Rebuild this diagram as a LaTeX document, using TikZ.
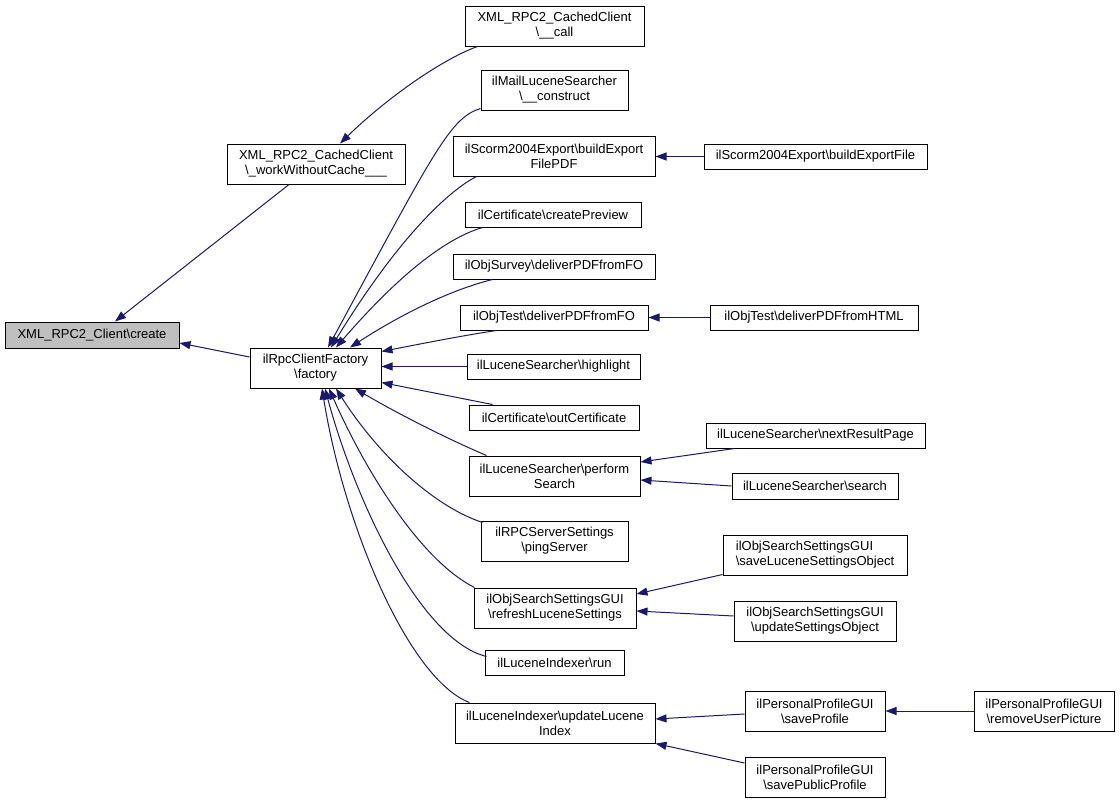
\documentclass[tikz,border=0pt]{standalone}
\usepackage{fontspec}
\setmainfont{Liberation Sans}
\usetikzlibrary{arrows.meta,calc}
\definecolor{edgeblue}{HTML}{191970}
\definecolor{curgray}{HTML}{BFBFBF}
\newcommand{\bs}{\textbackslash}
\begin{document}
\begin{tikzpicture}[x=1pt,y=-1pt,
  fn/.style={draw=black,line width=1pt,inner sep=0pt,align=center,
    font=\fontsize{13}{15}\selectfont},
  edge/.style={draw=edgeblue,line width=1pt,
    {Triangle[length=11pt,width=8pt,fill=edgeblue]}-}]
\useasboundingbox (0,0) rectangle (1120,803);
% nodes
\node[fn,fill=curgray,minimum width=174,minimum height=26] (create) at (92,335) {XML\_RPC2\_Client\bs create};
\node[fn,minimum width=178,minimum height=40] (wwc) at (316,164) {XML\_RPC2\_CachedClient\\\bs\_workWithoutCache\_\_\_};
\node[fn,minimum width=131,minimum height=40] (fac) at (315.5,368) {ilRpcClientFactory\\\bs factory};
\node[fn,minimum width=179,minimum height=40] (call) at (554.5,26) {XML\_RPC2\_CachedClient\\\bs\_\_call};
\node[fn,minimum width=147,minimum height=40] (cons) at (554.5,90) {ilMailLuceneSearcher\\\bs\_\_construct};
\node[fn,minimum width=202,minimum height=40] (bpdf) at (554,156) {ilScorm2004Export\bs buildExport\\FilePDF};
\node[fn,minimum width=223,minimum height=25] (bfile) at (815.5,156.5) {ilScorm2004Export\bs buildExportFile};
\node[fn,minimum width=176,minimum height=25] (cprev) at (553,214.5) {ilCertificate\bs createPreview};
\node[fn,minimum width=202,minimum height=25] (survey) at (554,266.5) {ilObjSurvey\bs deliverPDFfromFO};
\node[fn,minimum width=188,minimum height=25] (tfo) at (554,317.5) {ilObjTest\bs deliverPDFfromFO};
\node[fn,minimum width=208,minimum height=25] (thtml) at (814,317.5) {ilObjTest\bs deliverPDFfromHTML};
\node[fn,minimum width=173,minimum height=25] (hl) at (553.5,366.5) {ilLuceneSearcher\bs highlight};
\node[fn,minimum width=170,minimum height=25] (outc) at (554,417.5) {ilCertificate\bs outCertificate};
\node[fn,minimum width=171,minimum height=40] (perf) at (554.5,476) {ilLuceneSearcher\bs perform\\Search};
\node[fn,minimum width=219,minimum height=25] (next) at (815.5,435.5) {ilLuceneSearcher\bs nextResultPage};
\node[fn,minimum width=166,minimum height=26] (srch) at (815,486) {ilLuceneSearcher\bs search};
\node[fn,minimum width=147,minimum height=40] (ping) at (554.5,541) {ilRPCServerSettings\\\bs pingServer};
\node[fn,minimum width=162,minimum height=40] (refr) at (555,608) {ilObjSearchSettingsGUI\\\bs refreshLuceneSettings};
\node[fn,align=left,minimum width=184,minimum height=40] (slso) at (815,555) {ilObjSearchSettingsGUI\\\bs saveLuceneSettingsObject};
\node[fn,minimum width=162,minimum height=40] (uso) at (815,621) {ilObjSearchSettingsGUI\\\bs updateSettingsObject};
\node[fn,minimum width=139,minimum height=25] (run) at (554.5,662.5) {ilLuceneIndexer\bs run};
\node[fn,minimum width=200,minimum height=40] (uli) at (555,723) {ilLuceneIndexer\bs updateLucene\\Index};
\node[fn,minimum width=140,minimum height=40] (sprof) at (815,711) {ilPersonalProfileGUI\\\bs saveProfile};
\node[fn,minimum width=140,minimum height=40] (rup) at (1044,711) {ilPersonalProfileGUI\\\bs removeUserPicture};
\node[fn,minimum width=140,minimum height=40] (spub) at (815,777) {ilPersonalProfileGUI\\\bs savePublicProfile};
% edges (arrow at callee)
\draw[edge] ($(create.north)+(23,0)$) -- ($(wwc.south)+(-27,0)$);
\draw[edge] ($(wwc.north)+(24,0)$) .. controls (390,95) and (445,58) .. ($(call.south west)+(13,0)$);
\draw[edge] ($(create.east)+(0,8)$) -- ($(fac.west)+(0,-11)$);
\draw[edge] ($(fac.north)+(12.5,0)$) .. controls (435,150) and (450,118) .. ($(cons.south west)+(0,-2)$);
\draw[edge] ($(fac.north)+(15.5,0)$) .. controls (400,235) and (450,190) .. ($(bpdf.south west)+(24,0)$);
\draw[edge] ($(fac.north)+(20.5,0)$) .. controls (390,285) and (440,240) .. ($(cprev.south west)+(18,0)$);
\draw[edge] ($(fac.north)+(34.5,0)$) .. controls (400,315) and (450,290) .. ($(survey.south west)+(40,0)$);
\draw[edge] ($(fac.north east)+(0,4)$) .. controls (420,344) and (460,336) .. ($(tfo.south west)+(37,0)$);
\draw[edge] (hl.west -| fac.east) -- (hl.west);
\draw[edge] ($(fac.south east)+(0,-6)$) -- ($(outc.north west)+(24,0)$);
\draw[edge] ($(fac.south)+(39.5,0)$) .. controls (400,415) and (450,440) .. ($(perf.north west)+(18,0)$);
\draw[edge] ($(fac.south)+(20.5,0)$) .. controls (375,450) and (430,505) .. ($(ping.north west)+(2,2)$);
\draw[edge] ($(fac.south)+(13.5,0)$) .. controls (365,470) and (420,560) .. ($(refr.north west)+(1,0)$);
\draw[edge] ($(fac.south)+(9.5,0)$) .. controls (355,500) and (420,640) .. ($(run.north west)+(2,7)$);
\draw[edge] ($(fac.south)+(6.5,0)$) .. controls (345,530) and (410,680) .. ($(uli.north west)+(15,0)$);
\draw[edge] (bpdf.east |- bfile.west) -- (bfile.west);
\draw[edge] (tfo.east) -- (thtml.west);
\draw[edge] ($(perf.east)+(0,-14)$) -- ($(next.south west)+(29,0)$);
\draw[edge] ($(perf.east)+(0,4)$) -- (srch.west);
\draw[edge] ($(refr.east)+(0,-14)$) -- ($(slso.south west)+(0,-1)$);
\draw[edge] ($(refr.east)+(0,3)$) -- ($(uso.west)+(0,-5)$);
\draw[edge] ($(uli.east)+(0,-4)$) -- ($(sprof.west)+(0,3)$);
\draw[edge] (uli.south east) -- ($(spub.west)+(0,-14)$);
\draw[edge] (sprof.east) -- (rup.west);
\end{tikzpicture}
\end{document}
